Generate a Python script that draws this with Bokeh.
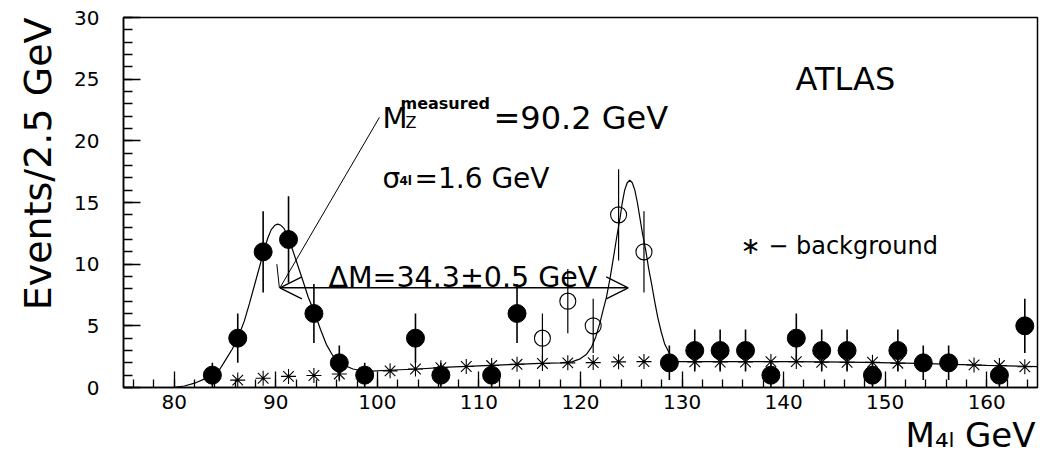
import math
from bokeh.plotting import figure
from bokeh.models import Label, SingleIntervalTicker, Range1d, Arrow, OpenHead, Title
from bokeh.embed import file_html
from bokeh.resources import INLINE

FONT = "DejaVu Sans"

# ---- data ----
# filled points: signal + background events (Z peak and the rest)
sig_x = [83.75, 86.25, 88.75, 91.25, 93.75, 96.25, 98.75, 103.75, 106.25, 111.25,
         113.75, 128.75, 131.25, 133.75, 136.25, 138.75, 141.25, 143.75, 146.25,
         148.75, 151.25, 153.75, 156.25, 161.25, 163.75]
sig_y = [1, 4, 11, 12, 6, 2, 1, 4, 1, 1,
         6, 2, 3, 3, 3, 1, 4, 3, 3,
         1, 3, 2, 2, 1, 5]
sig_err = [1.0, 2.0, 3.3, 3.5, 2.4, 1.4, 1.0, 2.0, 1.0, 1.0,
           2.4, 1.4, 1.7, 1.7, 1.7, 1.0, 2.0, 1.7, 1.7,
           1.0, 1.7, 1.4, 1.4, 1.0, 2.2]

# open points: Higgs candidate events
h_x = [116.25, 118.75, 121.25, 123.75, 126.25]
h_y = [4, 7, 5, 14, 11]
h_err = [2.0, 2.6, 2.2, 3.7, 3.3]

# background (stars)
bkg_x = [86.25, 88.75, 91.25, 93.75, 96.25, 98.75, 101.25, 103.75, 106.25, 108.75,
         111.25, 113.75, 116.25, 118.75, 121.25, 123.75, 126.25, 128.75, 131.25, 133.75,
         136.25, 138.75, 141.25, 143.75, 146.25, 148.75, 151.25, 153.75, 156.25, 158.75,
         161.25, 163.75]
bkg_y = [0.6, 0.75, 0.9, 0.97, 1.1, 1.2, 1.35, 1.5, 1.6, 1.7,
         1.78, 1.88, 1.95, 2.0, 2.02, 2.08, 2.1, 2.1, 2.08, 2.07,
         2.07, 2.1, 2.1, 2.05, 2.05, 2.05, 1.97, 1.93, 1.9, 1.83,
         1.78, 1.68]

# fitted curve
fit_x = [79.8, 81.0, 82.0, 83.0, 83.8, 84.5, 85.1, 85.7, 86.3, 86.9, 87.4, 88.1, 88.8,
         89.2, 89.55, 89.9, 90.2, 90.5, 90.8, 91.05, 91.35, 92.0, 92.65, 93.2, 93.8,
         94.4, 94.97, 95.6, 96.3, 97.0, 97.6, 98.3, 99.0, 101.0, 104.0, 107.0, 110.0,
         113.0, 116.0, 118.0, 119.2, 119.9, 120.6, 121.1, 121.5, 121.9, 122.2, 122.55,
         122.9, 123.2, 123.55, 123.9, 124.1, 124.35, 124.6, 124.85, 125.1, 125.35, 125.6,
         125.84, 126.1, 126.43, 126.7, 127.0, 127.3, 127.6, 127.95, 128.3, 128.8, 129.5,
         132.0, 136.0, 140.0, 144.0, 148.0, 152.0, 156.0, 160.0, 165.0]
fit_y = [0.0, 0.12, 0.35, 0.7, 0.97, 1.5, 2.3, 3.1, 4.1, 5.4, 6.8, 8.9, 11.0,
         12.1, 12.8, 13.15, 13.25, 13.15, 12.9, 12.5, 11.9, 10.3, 8.7, 7.3, 6.1,
         4.7, 3.5, 2.6, 2.05, 1.7, 1.5, 1.38, 1.3, 1.4, 1.5, 1.65, 1.75,
         1.85, 1.95, 2.0, 2.1, 2.3, 2.7, 3.3, 4.1, 5.2, 6.2, 7.3,
         8.8, 10.3, 12.1, 13.8, 14.9, 16.0, 16.6, 16.8, 16.6, 16.0, 15.0,
         13.8, 12.5, 11.1, 9.7, 8.4, 7.0, 5.7, 4.5, 3.5, 2.7, 2.1,
         2.1, 2.1, 2.1, 2.08, 2.03, 1.97, 1.9, 1.8, 1.7]

# Delta M arrow and pointer line from the M_Z label
arrow_x = [90.4, 124.7]
arrow_y = 8.08
pointer_x = [100.2, 90.4]
pointer_y = [21.9, 8.08]
tick_x = [90.1, 90.35]
tick_y = [10.0, 8.08]

x_ticks_interval = 10
y_ticks_interval = 5

p = figure(width=1044, height=460, output_backend="svg", toolbar_location=None,
           x_range=Range1d(75, 165), y_range=Range1d(0, 30),
           min_border_left=123, min_border_right=7, min_border_top=17,
           min_border_bottom=73)
p.xgrid.visible = False
p.ygrid.visible = False
p.outline_line_color = "black"
p.outline_line_width = 1.5
p.background_fill_color = "white"
p.border_fill_color = "white"

for ax, interval, tin, mtin in ((p.xaxis[0], x_ticks_interval, 16, 8),
                                (p.yaxis[0], y_ticks_interval, 17, 9)):
    ax.ticker = SingleIntervalTicker(interval=interval, num_minor_ticks=5)
    ax.axis_line_color = "black"
    ax.axis_line_width = 1.5
    ax.major_tick_in = tin
    ax.major_tick_out = 0
    ax.minor_tick_in = mtin
    ax.minor_tick_out = 0
    ax.major_tick_line_color = "black"
    ax.minor_tick_line_color = "black"
    ax.major_tick_line_width = 1.3
    ax.minor_tick_line_width = 1.3
    ax.major_label_text_font = FONT
    ax.major_label_text_font_size = "20px"
    ax.major_label_text_color = "black"
p.xaxis[0].major_label_standoff = 7
p.yaxis[0].major_label_standoff = 24

# axis titles as side-panel titles (right / top aligned like the reference)
p.add_layout(Title(text="M₄ₗ GeV", align="right", offset=2, standoff=2,
                   text_font=FONT, text_font_size="34px", text_font_style="normal",
                   text_color="black"), "below")
p.add_layout(Title(text="Events/2.5 GeV", align="right", offset=0, standoff=24,
                   text_font=FONT, text_font_size="38px", text_font_style="normal",
                   text_color="black"), "left")

# curve
p.line(fit_x, fit_y, line_color="black", line_width=1.2)

# background stars
p.scatter(bkg_x, bkg_y, marker="asterisk", size=15, line_color="black", line_width=1.1)

# error bars
p.segment(x0=sig_x, y0=[y - e for y, e in zip(sig_y, sig_err)],
          x1=sig_x, y1=[y + e for y, e in zip(sig_y, sig_err)],
          line_color="black", line_width=1.6)
p.segment(x0=h_x, y0=[y - e for y, e in zip(h_y, h_err)],
          x1=h_x, y1=[y + e for y, e in zip(h_y, h_err)],
          line_color="black", line_width=1.2)

# points
p.scatter(sig_x, sig_y, marker="circle", size=18, fill_color="black", line_color="black")
p.scatter(h_x, h_y, marker="circle", size=16, fill_alpha=0, line_color="black",
          line_width=1.1)

# arrow
p.add_layout(Arrow(start=OpenHead(size=22, line_width=1.2), end=OpenHead(size=22, line_width=1.2),
                   x_start=arrow_x[0], y_start=arrow_y, x_end=arrow_x[1], y_end=arrow_y,
                   line_width=1.5, line_color="black"))
p.line(pointer_x, pointer_y, line_color="black", line_width=1.0)
p.line(tick_x, tick_y, line_color="black", line_width=1.0)


def lab(text, x, y, size, bold=False, angle=0.0, align="left"):
    p.add_layout(Label(x=x, y=y, x_units="screen", y_units="screen", text=text,
                       text_font=FONT, text_font_size=size,
                       text_font_style="bold" if bold else "normal",
                       text_color="black", text_align=align,
                       text_baseline="alphabetic", angle=angle))


# frame-relative screen coordinates (frame left = 123, frame bottom = 387)
lab("ATLAS", 672, 309, "32px")
lab("M", 259, 270, "29px")
lab("Z", 282, 265, "16px")
lab("measured", 277, 284, "16px", bold=True)
lab("=90.2 GeV", 370, 270, "32px")
lab("σ", 259, 209, "28px")
lab("4l", 276, 207, "12px", bold=True)
lab("=1.6 GeV", 291, 209, "28px")
lab("ΔM=34.3±0.5 GeV", 205, 110, "28.5px")
lab("∗ − background", 617, 142, "24px")

open("out.html", "w").write(file_html(p, INLINE))
